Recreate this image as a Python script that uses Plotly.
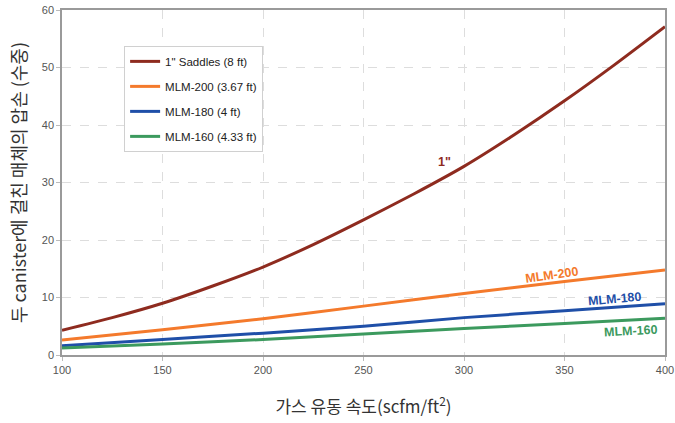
import plotly.graph_objects as go

x_vals = [100, 125, 150, 175, 200, 225, 250, 275, 300, 325, 350, 375, 400]
saddles_1in = [4.3, 6.5, 9.0, 12.0, 15.3, 19.2, 23.5, 28.0, 32.8, 38.3, 44.2, 50.5, 57.1]
x_mlm = [100, 150, 200, 250, 300, 350, 400]
mlm_200 = [2.6, 4.4, 6.3, 8.5, 10.7, 12.8, 14.8]
mlm_180 = [1.6, 2.7, 3.8, 5.0, 6.5, 7.7, 8.9]
mlm_160 = [1.2, 1.9, 2.7, 3.65, 4.6, 5.5, 6.4]

names = ['1" Saddles (8 ft)', "MLM-200 (3.67 ft)", "MLM-180 (4 ft)", "MLM-160 (4.33 ft)"]
colors = ["#8E2B1F", "#F47A2C", "#1F4FA8", "#3C9A5E"]

x_tick_vals = [100, 150, 200, 250, 300, 350, 400]
y_tick_vals = [0, 10, 20, 30, 40, 50, 60]

x_title = "가스 유동 속도(scfm/ft<sup>2</sup>)"
y_title = "두 canister에 걸친 매체의 압손 (수중)"

series = [(x_vals, saddles_1in), (x_mlm, mlm_200), (x_mlm, mlm_180), (x_mlm, mlm_160)]

fig = go.Figure()
for i, ((xs, ys), n, c) in enumerate(zip(series, names, colors)):
    fig.add_trace(go.Scatter(
        x=xs, y=ys, mode="lines", name=n, legendgroup=str(i),
        line=dict(color=c, width=3, shape="spline", smoothing=0.6),
    ))

labels = [
    ('1"', 290.5, 33.6, colors[0], 0),
    ("MLM-200", 344, 14.0, colors[1], -8),
    ("MLM-180", 375, 9.7, colors[2], -5),
    ("MLM-160", 383, 4.2, colors[3], -3),
]
for t, lx, ly, c, ang in labels:
    fig.add_annotation(x=lx, y=ly, text="<b>%s</b>" % t, showarrow=False,
                       textangle=ang, font=dict(color=c, size=12.5, family="Liberation Sans, Arial"))

tick_font = dict(family="Liberation Sans, Arial", size=11, color="#555555")

fig.update_layout(
    template="none",
    width=675, height=423,
    margin=dict(l=62, r=10, t=10, b=68),
    paper_bgcolor="white", plot_bgcolor="white",
    font=dict(family="Liberation Sans, Arial", size=11, color="#555555"),
    showlegend=True,
    legend=dict(
        x=0.103, y=0.896, xanchor="left", yanchor="top",
        bgcolor="white", bordercolor="#d0d0d0", borderwidth=1,
        font=dict(size=11.5, color="#222222"),
        tracegroupgap=6,
    ),
)
fig.update_xaxes(
    range=[100, 400], tickvals=x_tick_vals, tickfont=tick_font, automargin=False,
    showgrid=True, gridcolor="#dddddd", griddash="dash", gridwidth=1,
    showline=True, linecolor="#9a9a9a", linewidth=1.5, mirror=True,
    ticks="outside", ticklen=4, tickcolor="#bbbbbb",
    zeroline=False,
    title=dict(text=x_title, font=dict(family="Noto Sans CJK KR", size=17, color="#333333"), standoff=26),
)
fig.update_yaxes(
    range=[0, 60], tickvals=y_tick_vals, tickfont=tick_font, automargin=False,
    showgrid=True, gridcolor="#dddddd", griddash="dash", gridwidth=1,
    showline=True, linecolor="#9a9a9a", linewidth=1.5, mirror=True,
    ticks="outside", ticklen=4, tickcolor="#bbbbbb",
    zeroline=False,
    title=dict(text=y_title, font=dict(family="Noto Sans CJK KR", size=18, color="#333333"), standoff=10),
)

fig.write_html("out.html")
